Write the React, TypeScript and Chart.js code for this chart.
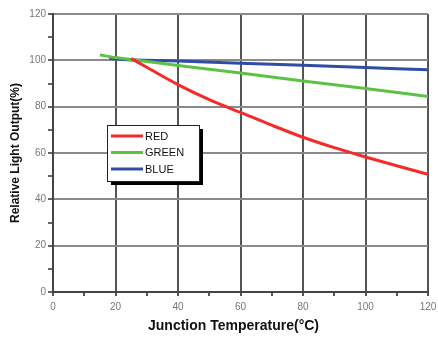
import React, { useEffect, useRef } from "react";
import { Chart, registerables } from "chart.js";

Chart.register(...registerables);

const redTemp = [25, 30, 40, 50, 60, 70, 80, 90, 100, 110, 120];
const redOutput = [100.8, 97, 89.5, 83, 77.5, 72, 66.8, 62.3, 58.3, 54.5, 50.8];
const greenTemp = [15, 20, 30, 40, 60, 80, 100, 120];
const greenOutput = [102.3, 101.2, 99.5, 97.8, 94.5, 91.1, 87.8, 84.4];
const blueTemp = [18, 20, 40, 60, 80, 100, 120];
const blueOutput = [101, 100.6, 99.7, 98.7, 97.9, 96.9, 95.9];
const seriesLabels = ["RED", "GREEN", "BLUE"];
const seriesColors = ["#f52a2a", "#5cc245", "#2f4ea3"];
const xTickValues = [0, 20, 40, 60, 80, 100, 120];
const yTickValues = [0, 20, 40, 60, 80, 100, 120];
const xTitle = "Junction Temperature(°C)";
const yTitle = "Relative Light Output(%)";

const pts = (xs: number[], ys: number[]) => xs.map((x, i) => ({ x, y: ys[i] }));

const legendPlugin = {
  id: "boxLegend",
  afterDatasetsDraw(chart: any) {
    const { ctx, chartArea } = chart;
    const left = chartArea.left + 54;
    const top = chartArea.top + 111;
    const w = 92;
    const h = 56;
    ctx.save();
    ctx.fillStyle = "#000";
    ctx.fillRect(left + 4, top + 4, w, h);
    ctx.fillStyle = "#fff";
    ctx.fillRect(left, top, w, h);
    ctx.strokeStyle = "#222";
    ctx.lineWidth = 1;
    ctx.strokeRect(left + 0.5, top + 0.5, w, h);
    ctx.font = "11px 'Liberation Sans', Arial, sans-serif";
    ctx.textBaseline = "middle";
    chart.data.datasets.forEach((ds: any, i: number) => {
      const y = top + 11 + i * 16.5;
      ctx.strokeStyle = ds.borderColor;
      ctx.lineWidth = 3;
      ctx.beginPath();
      ctx.moveTo(left + 4, y);
      ctx.lineTo(left + 36, y);
      ctx.stroke();
      ctx.fillStyle = "#111";
      ctx.fillText(ds.label, left + 38, y + 0.5);
    });
    // x axis title
    ctx.fillStyle = "#111";
    ctx.font = "bold 14px 'Liberation Sans', Arial, sans-serif";
    ctx.textAlign = "center";
    ctx.textBaseline = "middle";
    ctx.fillText(xTitle, (chartArea.left + chartArea.right) / 2 - 7, 326);
    ctx.restore();
  },
};

export default function App() {
  const ref = useRef<HTMLCanvasElement>(null);
  useEffect(() => {
    document.body.style.margin = "0";
    const datasets = [
      pts(redTemp, redOutput),
      pts(greenTemp, greenOutput),
      pts(blueTemp, blueOutput),
    ].map((d, i) => ({
      label: seriesLabels[i],
      data: d,
      borderColor: seriesColors[i],
      backgroundColor: seriesColors[i],
      borderWidth: 3,
      pointRadius: 0,
      cubicInterpolationMode: "monotone" as const,
    }));
    const chart = new Chart(ref.current!, {
      type: "line",
      data: { datasets },
      plugins: [legendPlugin],
      options: {
        animation: false,
        responsive: false,
        layout: { padding: { top: 14, right: 10, left: 0, bottom: 0 } },
        plugins: { legend: { display: false }, tooltip: { enabled: false } },
        scales: {
          x: {
            type: "linear",
            min: 0,
            max: 120,
            afterFit: (s: any) => {
              s.height = 46;
              s.paddingLeft = 0;
              s.paddingRight = 0;
            },
            afterBuildTicks: (s: any) => {
              const t = [];
              for (let v = 0; v <= 120; v += 10) t.push({ value: v });
              s.ticks = t;
            },
            ticks: {
              autoSkip: false,
              maxRotation: 0,
              padding: 5,
              color: "#777",
              font: { size: 10, family: "'Liberation Sans', Arial, sans-serif" },
              callback: (v: any) => (xTickValues.includes(v) ? String(v) : ""),
            },
            grid: {
              color: (c: any) => (c.tick && xTickValues.includes(c.tick.value) ? "#555" : "rgba(0,0,0,0)"),
              tickColor: "#555",
              lineWidth: 2,
              tickLength: 4,
            },
            border: { color: "#444", width: 2 },
          },
          y: {
            type: "linear",
            min: 0,
            max: 120,
            afterFit: (s: any) => {
              s.width = 53;
              s.paddingTop = 0;
              s.paddingBottom = 0;
            },
            afterBuildTicks: (s: any) => {
              const t = [];
              for (let v = 0; v <= 120; v += 10) t.push({ value: v });
              s.ticks = t;
            },
            ticks: {
              autoSkip: false,
              padding: 2,
              color: "#777",
              font: { size: 10, family: "'Liberation Sans', Arial, sans-serif" },
              callback: (v: any) => (yTickValues.includes(v) ? String(v) : ""),
            },
            grid: {
              color: (c: any) => (c.tick && yTickValues.includes(c.tick.value) ? "#8a8a8a" : "rgba(0,0,0,0)"),
              tickColor: "#666",
              lineWidth: 2,
              tickLength: 5,
            },
            border: { color: "#444", width: 2 },
            title: {
              display: true,
              text: yTitle,
              color: "#111",
              font: { size: 12, weight: "bold", family: "'Liberation Sans', Arial, sans-serif" },
              padding: { top: 8, bottom: 0 },
            },
          },
        },
      },
    });
    return () => chart.destroy();
  }, []);
  return (
    <div style={{ width: 438, height: 338, background: "#fff" }}>
      <canvas ref={ref} width={438} height={338} />
    </div>
  );
}
